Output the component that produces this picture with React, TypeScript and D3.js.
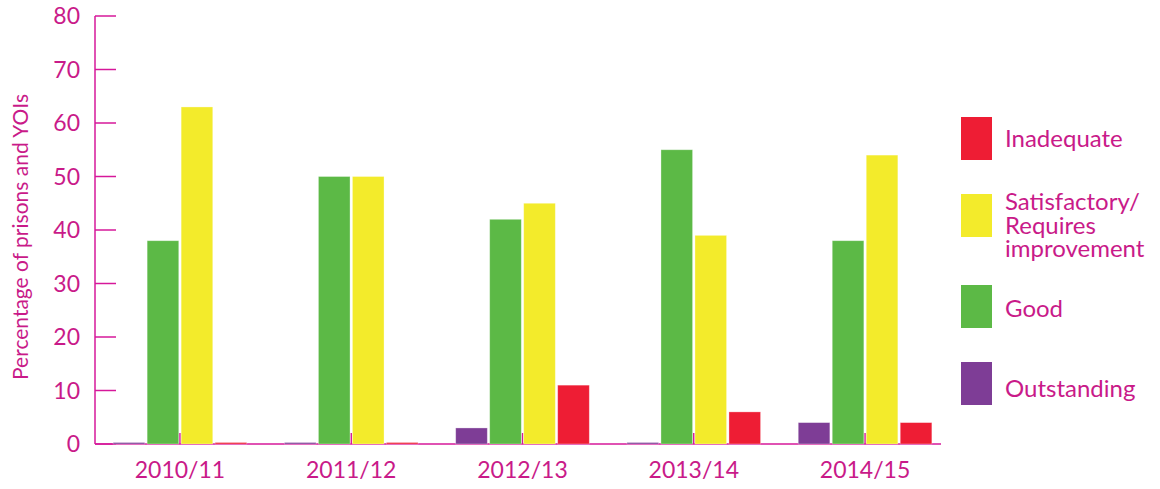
import React from "react";
import * as d3 from "d3";

const categories = ["2010/11", "2011/12", "2012/13", "2013/14", "2014/15"];
const seriesNames = ["Outstanding", "Good", "Satisfactory/Requires improvement", "Inadequate"];
const outstanding = [0, 0, 3, 0, 4];
const good = [38, 50, 42, 55, 38];
const satisfactory = [63, 50, 45, 39, 54];
const inadequate = [0, 0, 11, 6, 4];
const yTicks = [0, 10, 20, 30, 40, 50, 60, 70, 80];
const legendKeys = ["Inadequate", "Satisfactory/Requires improvement", "Good", "Outstanding"];
const legendLines = [["Inadequate"], ["Satisfactory/", "Requires", "improvement"], ["Good"], ["Outstanding"]];
const legendTops = [117, 194, 285, 362];
const legendBaselines = [147, 210, 317, 397];

const colors: Record<string, string> = {
  Outstanding: "#7e3d96",
  Good: "#5cb946",
  "Satisfactory/Requires improvement": "#f3eb2b",
  Inadequate: "#ee1d34",
};
const magenta = "#c91a89";
const axisColor = "#d6189a";
const font = "Lato, 'Open Sans', sans-serif";

export default function App() {
  const W = 1160, H = 489;
  const x0 = 95, y0 = 444, yTop = 16;
  const y = d3.scaleLinear().domain([0, 80]).range([y0, yTop]);
  const x = d3.scaleBand().domain(categories).range([95, 950]).paddingInner(0.206).paddingOuter(0.099);
  const xs = d3.scaleBand().domain(seriesNames).range([0, x.bandwidth()]).paddingInner(0.07).paddingOuter(0.035);
  const values: Record<string, number[]> = {
    Outstanding: outstanding,
    Good: good,
    "Satisfactory/Requires improvement": satisfactory,
    Inadequate: inadequate,
  };

  return (
    <svg width={W} height={H} style={{ position: "absolute", left: 0, top: 0, background: "#fff" }}>
      {/* y axis */}
      <line x1={x0} x2={x0} y1={yTop} y2={y0} stroke={axisColor} strokeWidth={1.5} />
      {yTicks.map((t) => (
        <g key={t}>
          <line x1={x0} x2={x0 + 21} y1={y(t)} y2={y(t)} stroke={axisColor} strokeWidth={1.5} />
          <text x={80} y={y(t)} dy="0.36em" textAnchor="end" fontFamily={font} fontSize={23} fill={magenta}>
            {t}
          </text>
        </g>
      ))}
      {/* x axis */}
      <line x1={x0} x2={941} y1={y0} y2={y0} stroke={axisColor} strokeWidth={1.5} />
      {categories.map((c) => {
        const cx = (x(c) as number) + x.bandwidth() / 2;
        return (
          <g key={c}>
            <line x1={cx} x2={cx} y1={y0} y2={y0 - 11} stroke={axisColor} strokeWidth={1.5} />
            <text x={cx} y={478} textAnchor="middle" fontFamily={font} fontSize={23} fill={magenta}>
              {c}
            </text>
          </g>
        );
      })}
      {/* bars */}
      {categories.map((c, i) => (
        <g key={c} transform={`translate(${x(c)},0)`}>
          {seriesNames.map((s) => {
            const v = values[s][i];
            const top = y(v);
            const h = Math.max(y0 - top, 1.5);
            return (
              <rect
                key={s}
                x={xs(s)}
                y={y0 - h}
                width={xs.bandwidth()}
                height={h}
                fill={colors[s]}
                stroke="#ffffff"
                strokeOpacity={0.4}
                strokeWidth={0.8}
              />
            );
          })}
        </g>
      ))}
      {/* y title */}
      <text
        transform={`translate(28,237) rotate(-90)`}
        textAnchor="middle"
        fontFamily={font}
        fontSize={21}
        fill={magenta}
      >
        Percentage of prisons and YOIs
      </text>
      {/* legend */}
      {legendKeys.map((k, i) => (
        <g key={k}>
          <rect x={961} y={legendTops[i]} width={31} height={43} fill={colors[k]} />
          <text fontFamily={font} fontSize={24} fill={magenta}>
            {legendLines[i].map((l, j) => (
              <tspan key={j} x={1005} y={legendBaselines[i] + j * 23.5}>
                {l}
              </tspan>
            ))}
          </text>
        </g>
      ))}
    </svg>
  );
}
